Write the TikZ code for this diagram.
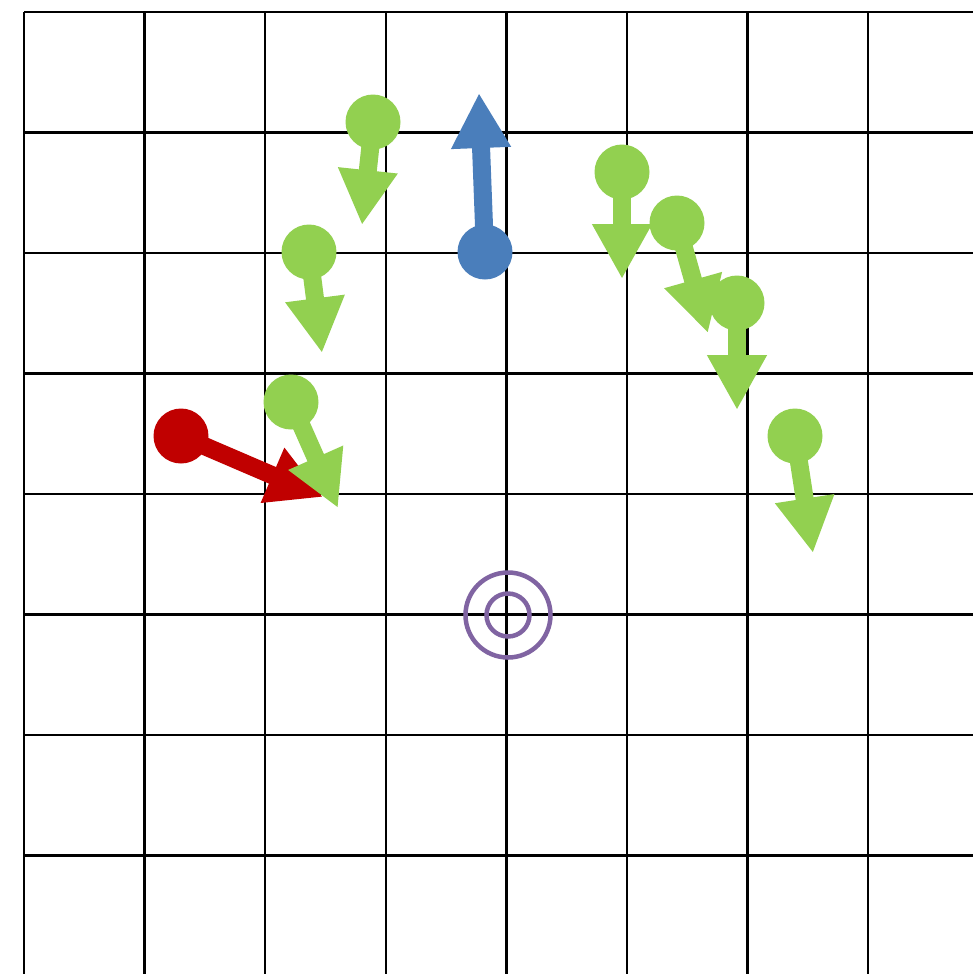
\documentclass[tikz,border=0pt]{standalone}
\usepackage{xcolor}
\usetikzlibrary{arrows.meta}
\definecolor{dotgreen}{HTML}{92D050}
\definecolor{dotblue}{HTML}{4A7EBB}
\definecolor{dotred}{HTML}{C00000}
\definecolor{ringpurple}{HTML}{8064A2}
\tikzset{
    gridline/.style={line width=0.25mm, black},
    dot/.style={circle, inner sep=0pt, minimum size=5.5mm},
    vec/.style={line width=1.8mm, -{Triangle[length=5.5mm, width=5.6mm]}},
    ring/.style={line width=0.45mm, draw=ringpurple}
}
\begin{document}
\begin{tikzpicture}[x=0.1mm, y=-0.1mm]
    \useasboundingbox (0,0) rectangle (973,974);
    \fill[white] (0,0) rectangle (973,974);
    % grid
    \foreach \i in {0,...,7}
        \draw[gridline] ({24+120.6*\i},12) -- ({24+120.6*\i},974);
    \foreach \j in {0,...,7}
        \draw[gridline] (24,{12+120.5*\j}) -- (973,{12+120.5*\j});

    % target
    \node (target) at (508,615) {};
    \draw[ring] (target.center) circle[radius=42.5];
    \draw[ring] (target.center) circle[radius=21.5];

    % red
    \node (red) [dot, fill=dotred] at (181,436) {};
    \coordinate (redtip) at (323,497);
    \draw[vec, dotred] (red.center) -- (redtip);

    % blue
    \node (blue) [dot, fill=dotblue] at (485,252) {};
    \coordinate (bluetip) at (479,93);
    \draw[vec, dotblue] (blue.center) -- (bluetip);

    % green
    \node (g1) [dot, fill=dotgreen] at (373,122) {};
    \coordinate (g1tip) at (362,225);
    \draw[vec, dotgreen] (g1.center) -- (g1tip);
    \node (g2) [dot, fill=dotgreen] at (309,252) {};
    \coordinate (g2tip) at (322,353);
    \draw[vec, dotgreen] (g2.center) -- (g2tip);
    \node (g3) [dot, fill=dotgreen] at (291,402) {};
    \coordinate (g3tip) at (338,508);
    \draw[vec, dotgreen] (g3.center) -- (g3tip);
    \node (g4) [dot, fill=dotgreen] at (622,172) {};
    \coordinate (g4tip) at (622,279);
    \draw[vec, dotgreen] (g4.center) -- (g4tip);
    \node (g5) [dot, fill=dotgreen] at (677,223) {};
    \coordinate (g5tip) at (708,333);
    \draw[vec, dotgreen] (g5.center) -- (g5tip);
    \node (g6) [dot, fill=dotgreen] at (737,303) {};
    \coordinate (g6tip) at (737,410);
    \draw[vec, dotgreen] (g6.center) -- (g6tip);
    \node (g7) [dot, fill=dotgreen] at (795,436) {};
    \coordinate (g7tip) at (813,553);
    \draw[vec, dotgreen] (g7.center) -- (g7tip);
\end{tikzpicture}
\end{document}
